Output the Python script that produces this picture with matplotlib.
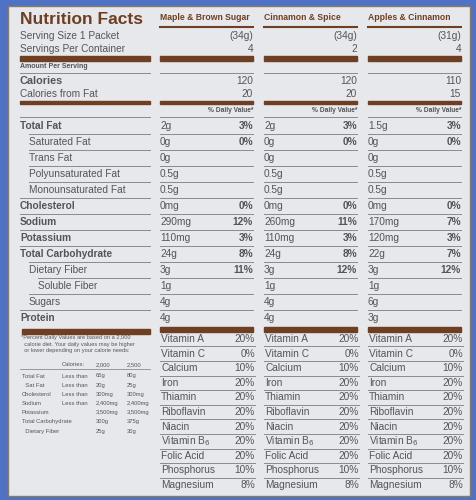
import matplotlib
matplotlib.use("Agg")
import matplotlib.pyplot as plt
from matplotlib.patches import Rectangle

plt.rcParams['font.family'] = ['Liberation Sans', 'DejaVu Sans']

flavors = ["Maple & Brown Sugar", "Cinnamon & Spice", "Apples & Cinnamon"]
serving_g = ["(34g)", "(34g)", "(31g)"]
servings = ["4", "2", "4"]
calories = ["120", "120", "110"]
cal_fat = ["20", "20", "15"]

nut_labels = ["Total Fat", "Saturated Fat", "Trans Fat", "Polyunsaturated Fat",
              "Monounsaturated Fat", "Cholesterol", "Sodium", "Potassium",
              "Total Carbohydrate", "Dietary Fiber", "Soluble Fiber", "Sugars", "Protein"]
nut_bold = [True, False, False, False, False, True, True, True, True, False, False, False, True]
nut_indent = [0, 1, 1, 1, 1, 0, 0, 0, 0, 1, 2, 1, 0]
amounts = [
    ["2g", "0g", "0g", "0.5g", "0.5g", "0mg", "290mg", "110mg", "24g", "3g", "1g", "4g", "4g"],
    ["2g", "0g", "0g", "0.5g", "0.5g", "0mg", "260mg", "110mg", "24g", "3g", "1g", "4g", "4g"],
    ["1.5g", "0g", "0g", "0.5g", "0.5g", "0mg", "170mg", "120mg", "22g", "3g", "1g", "6g", "3g"],
]
dv = [
    ["3%", "0%", "", "", "", "0%", "12%", "3%", "8%", "11%", "", "", ""],
    ["3%", "0%", "", "", "", "0%", "11%", "3%", "8%", "12%", "", "", ""],
    ["3%", "0%", "", "", "", "0%", "7%", "3%", "7%", "12%", "", "", ""],
]
vit_labels = ["Vitamin A", "Vitamin C", "Calcium", "Iron", "Thiamin", "Riboflavin",
              "Niacin", "Vitamin B$_6$", "Folic Acid", "Phosphorus", "Magnesium"]
vit_dv = [
    ["20%", "0%", "10%", "20%", "20%", "20%", "20%", "20%", "20%", "10%", "8%"],
    ["20%", "0%", "10%", "20%", "20%", "20%", "20%", "20%", "20%", "10%", "8%"],
    ["20%", "0%", "10%", "20%", "20%", "20%", "20%", "20%", "20%", "10%", "8%"],
]
foot_rows = [["", "Calories:", "2,000", "2,500"],
             ["Total Fat", "Less than", "65g", "80g"],
             ["  Sat Fat", "Less than", "20g", "25g"],
             ["Cholesterol", "Less than", "300mg", "300mg"],
             ["Sodium", "Less than", "2,400mg", "2,400mg"],
             ["Potassium", "", "3,500mg", "3,500mg"],
             ["Total Carbohydrate", "", "300g", "375g"],
             ["  Dietary Fiber", "", "25g", "30g"]]

BROWN = "#6e3f22"
TXT = "#555558"
LINE = "#8a8a90"
FS = 7.3

fig = plt.figure(figsize=(4.76, 5.0), dpi=100)
ax = fig.add_axes([0, 0, 1, 1])
ax.set_xlim(0, 476); ax.set_ylim(500, 0); ax.axis("off")
fig.patch.set_facecolor("#4f72c4")
ax.add_patch(Rectangle((8, 6), 462, 490, facecolor="#e6e8ec", edgecolor="#8a7a6a", lw=1))

L0, L1 = 20, 150
cols = [(160, 253), (264, 357), (368, 461)]

ax.text(L0, 19, "Nutrition Facts", fontsize=12.5, fontweight="bold", color=BROWN, va="center")
for i, (a, b) in enumerate(cols):
    ax.text(a, 18, flavors[i], fontsize=6.2, fontweight="bold", color=BROWN, va="center")
    ax.plot([a, b], [27, 27], color=BROWN, lw=1.5)
    ax.text(b, 36, serving_g[i], fontsize=FS, color=TXT, ha="right", va="center")
    ax.text(b, 49, servings[i], fontsize=FS, color=TXT, ha="right", va="center")
    ax.add_patch(Rectangle((a, 56), b - a, 5, color=BROWN))
    ax.plot([a, b], [73, 73], color=LINE, lw=0.7)
    ax.text(b, 81, calories[i], fontsize=FS, color=TXT, ha="right", va="center")
    ax.text(b, 94, cal_fat[i], fontsize=FS, color=TXT, ha="right", va="center")
    ax.add_patch(Rectangle((a, 101), b - a, 3, color=BROWN))
    ax.text(b, 111, "% Daily Value*", fontsize=4.8, fontweight="bold", color=TXT, ha="right", va="center")
    ax.plot([a, b], [117, 117], color=LINE, lw=0.7)

ax.text(L0, 36, "Serving Size 1 Packet", fontsize=FS, color=TXT, va="center")
ax.text(L0, 49, "Servings Per Container", fontsize=FS, color=TXT, va="center")
ax.add_patch(Rectangle((L0, 56), L1 - L0, 5, color=BROWN))
ax.text(L0, 67, "Amount Per Serving", fontsize=5, fontweight="bold", color=TXT, va="center")
ax.plot([L0, L1], [73, 73], color=LINE, lw=0.7)
ax.text(L0, 81, "Calories", fontsize=7.8, fontweight="bold", color=TXT, va="center")
ax.text(L0, 94, "Calories from Fat", fontsize=FS, color=TXT, va="center")
ax.add_patch(Rectangle((L0, 101), L1 - L0, 3, color=BROWN))
ax.plot([L0, L1], [117, 117], color=LINE, lw=0.7)

y0, dy = 126, 16
for r, lab in enumerate(nut_labels):
    y = y0 + r * dy
    x = L0 + 9 * nut_indent[r]
    ax.text(x, y, lab, fontsize=FS, fontweight="bold" if nut_bold[r] else "normal", color=TXT, va="center")
    if r < len(nut_labels) - 1:
        lx = L0 + 9 * nut_indent[r + 1] if nut_indent[r + 1] else L0
        ax.plot([lx, L1], [y + 8, y + 8], color=LINE, lw=0.7)
    for i, (a, b) in enumerate(cols):
        ax.text(a, y, amounts[i][r], fontsize=FS, color=TXT, va="center")
        if dv[i][r]:
            ax.text(b, y, dv[i][r], fontsize=FS, fontweight="bold", color=TXT, ha="right", va="center")
        if r < len(nut_labels) - 1:
            ax.plot([a, b], [y + 8, y + 8], color=LINE, lw=0.7)

ybar = y0 + len(nut_labels) * dy - 7
ax.add_patch(Rectangle((L0 + 2, ybar + 2), L1 - L0 - 2, 5, color=BROWN))
for a, b in cols:
    ax.add_patch(Rectangle((a, ybar), b - a, 5, color=BROWN))

v0, vdy = 339, 14.6
for r, lab in enumerate(vit_labels):
    y = v0 + r * vdy
    for i, (a, b) in enumerate(cols):
        ax.text(a + 1, y, lab, fontsize=FS, color=TXT, va="center")
        ax.text(b + 2, y, vit_dv[i][r], fontsize=FS, color=TXT, ha="right", va="center")
        if r < len(vit_labels) - 1:
            ax.plot([a, b + 2], [y + 7.3, y + 7.3], color=LINE, lw=0.7)

ax.text(L0 + 1, 335, "*Percent Daily Values are based on a 2,000\n  calorie diet. Your daily values may be higher\n  or lower depending on your calorie needs:",
        fontsize=4.1, color=TXT, va="top", linespacing=1.4)
fx = [L0 + 2, 62, 96, 127]
for r, row in enumerate(foot_rows):
    y = 365 if r == 0 else 376 + (r - 1) * 9.2
    for c, t in enumerate(row):
        ax.text(fx[c], y, t, fontsize=4.2, color=TXT, va="center")
    if r == 0:
        ax.plot([L0, L1], [369, 369], color=LINE, lw=0.6)

fig.savefig("out.png", dpi=100, facecolor=fig.get_facecolor())
